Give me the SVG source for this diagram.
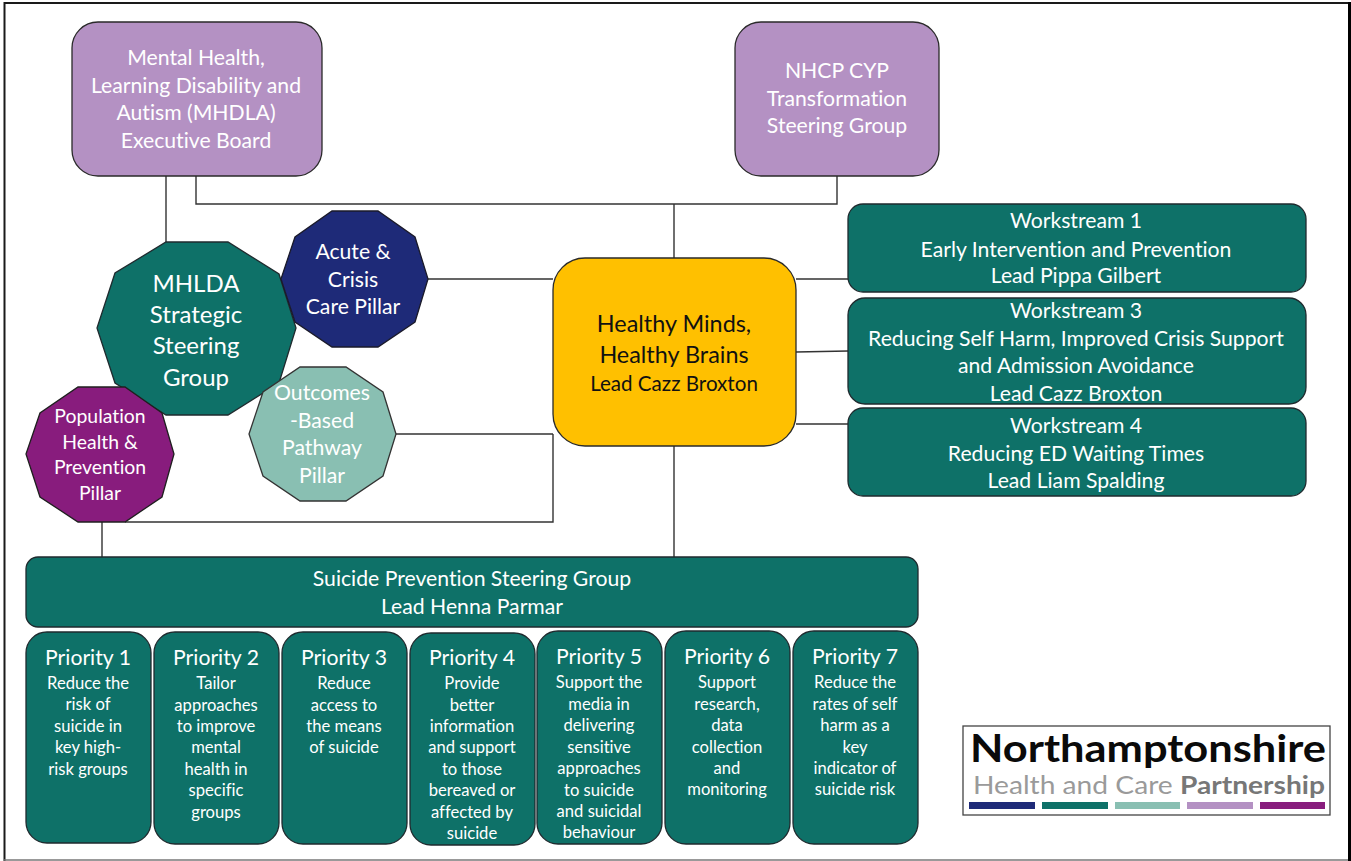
<svg xmlns="http://www.w3.org/2000/svg" width="1351" height="861" viewBox="0 0 1351 861">
<style>
text{font-family:"Lato","Carlito","Open Sans",sans-serif;fill:#fff;text-anchor:middle;font-size:21.2px;font-variant-ligatures:none;transform:translateY(.6px)}
.s{font-size:16.6px}
.t{fill:#0e7168;stroke:#1f2a2e;stroke-width:1.3}
.l{fill:#b491c3;stroke:#2a2a2a;stroke-width:1.3}
.c{fill:none;stroke:#333;stroke-width:1.4}
</style>
<rect width="1351" height="861" fill="#fff"/>
<path d="M4.5 861V3H1348" fill="none" stroke="#1a1a1a" stroke-width="2"/>
<rect x="1348" y="2" width="3" height="859" fill="#000"/>
<path d="M4 860H1348" fill="none" stroke="#777" stroke-width="1.5"/>
<g id="connectors">
<path class="c" d="M166 176V242M196 176V204H837V176M674 204V258M428 279H553M396 434H553M125 522H553V434M102 522V557M674 446V557M796 279H848M796 352L848 351M796 424H848"/>
</g>
<g id="mhlda-board"><rect class="l" x="72" y="22" width="250" height="154" rx="26"/>
<text x="196" y="64">Mental Health,</text><text x="196" y="92">Learning Disability and</text><text x="196" y="119">Autism (MHDLA)</text><text x="196" y="147">Executive Board</text></g>
<g id="nhcp"><rect class="l" x="735" y="22" width="204" height="154" rx="26"/>
<text x="837" y="77">NHCP CYP</text><text x="837" y="105">Transformation</text><text x="837" y="132">Steering Group</text></g>
<g id="mhlda-steering"><polygon class="t" points="166,242 228,242 279,274 296,328 279,383 228,415 166,415 115,383 97,328 115,273"/>
<text x="196" y="291" style="font-size:24px">MHLDA</text><text x="196" y="322" style="font-size:24px">Strategic</text><text x="196" y="353" style="font-size:24px">Steering</text><text x="196" y="385" style="font-size:24px">Group</text></g>
<g id="acute"><polygon points="332,211 378,211 415,237 428,279 415,322 378,347 332,347 295,322 281,279 295,237" fill="#1e2a78" stroke="#1a1a2a" stroke-width="1.3"/>
<text x="353" y="258">Acute &amp;</text><text x="353" y="286">Crisis</text><text x="353" y="313">Care Pillar</text></g>
<g id="outcomes"><polygon points="300,367 346,367 383,392 396,434 383,476 346,501 300,501 263,476 249,434 263,392" fill="#89bfb2" stroke="#333" stroke-width="1.3"/>
<text x="322" y="399">Outcomes</text><text x="322" y="427">-Based</text><text x="322" y="454">Pathway</text><text x="322" y="482">Pillar</text></g>
<g id="population"><polygon points="78,387 125,387 162,413 174,454 162,497 125,522 78,522 40,497 26,454 40,413" fill="#881c7d" stroke="#1f1f1f" stroke-width="1.3"/>
<text x="100" y="422" style="font-size:19.4px">Population</text><text x="100" y="448" style="font-size:19.4px">Health &amp;</text><text x="100" y="473" style="font-size:19.4px">Prevention</text><text x="100" y="499" style="font-size:19.4px">Pillar</text></g>
<g id="healthy-minds"><rect x="553" y="258" width="243" height="188" rx="32" fill="#ffc000" stroke="#2a2a2a" stroke-width="1.3"/>
<text x="674" y="331" style="fill:#111;font-size:23.4px">Healthy Minds,</text><text x="674" y="362" style="fill:#111;font-size:23.4px">Healthy Brains</text><text x="674" y="390" style="fill:#111;font-size:20.6px">Lead Cazz Broxton</text></g>
<g id="ws1"><rect class="t" x="848" y="204" width="458" height="88" rx="15"/>
<text x="1076" y="227">Workstream 1</text><text x="1076" y="256">Early Intervention and Prevention</text><text x="1076" y="282">Lead Pippa Gilbert</text></g>
<g id="ws3"><rect class="t" x="848" y="298" width="458" height="106" rx="17"/>
<text x="1076" y="317">Workstream 3</text><text x="1076" y="345">Reducing Self Harm, Improved Crisis Support</text><text x="1076" y="372">and Admission Avoidance</text><text x="1076" y="400">Lead Cazz Broxton</text></g>
<g id="ws4"><rect class="t" x="848" y="408" width="458" height="88" rx="15"/>
<text x="1076" y="432">Workstream 4</text><text x="1076" y="460">Reducing ED Waiting Times</text><text x="1076" y="487">Lead Liam Spalding</text></g>
<g id="suicide"><rect class="t" x="26" y="557" width="892" height="70" rx="12"/>
<text x="472" y="585">Suicide Prevention Steering Group</text><text x="472" y="613">Lead Henna Parmar</text></g>
<g id="p1"><rect class="t" x="26" y="632" width="125" height="211" rx="21"/>
<text x="88" y="664">Priority 1</text><text class="s" x="88" y="688">Reduce the</text><text class="s" x="88" y="709">risk of</text><text class="s" x="88" y="731">suicide in</text><text class="s" x="88" y="752">key high-</text><text class="s" x="88" y="774">risk groups</text></g>
<g id="p2"><rect class="t" x="154" y="632" width="125" height="212" rx="21"/>
<text x="216" y="664">Priority 2</text><text class="s" x="216" y="688">Tailor</text><text class="s" x="216" y="710">approaches</text><text class="s" x="216" y="731">to improve</text><text class="s" x="216" y="752">mental</text><text class="s" x="216" y="774">health in</text><text class="s" x="216" y="795">specific</text><text class="s" x="216" y="817">groups</text></g>
<g id="p3"><rect class="t" x="282" y="632" width="125" height="212" rx="21"/>
<text x="344" y="664">Priority 3</text><text class="s" x="344" y="688">Reduce</text><text class="s" x="344" y="710">access to</text><text class="s" x="344" y="731">the means</text><text class="s" x="344" y="752">of suicide</text></g>
<g id="p4"><rect class="t" x="410" y="633" width="125" height="212" rx="21"/>
<text x="472" y="664">Priority 4</text><text class="s" x="472" y="688">Provide</text><text class="s" x="472" y="710">better</text><text class="s" x="472" y="731">information</text><text class="s" x="472" y="752">and support</text><text class="s" x="472" y="774">to those</text><text class="s" x="472" y="795">bereaved or</text><text class="s" x="472" y="817">affected by</text><text class="s" x="472" y="838">suicide</text></g>
<g id="p5"><rect class="t" x="537" y="631" width="125" height="213" rx="21"/>
<text x="599" y="663">Priority 5</text><text class="s" x="599" y="687">Support the</text><text class="s" x="599" y="709">media in</text><text class="s" x="599" y="730">delivering</text><text class="s" x="599" y="752">sensitive</text><text class="s" x="599" y="773">approaches</text><text class="s" x="599" y="795">to suicide</text><text class="s" x="599" y="816">and suicidal</text><text class="s" x="599" y="837">behaviour</text></g>
<g id="p6"><rect class="t" x="665" y="631" width="125" height="213" rx="21"/>
<text x="727" y="663">Priority 6</text><text class="s" x="727" y="687">Support</text><text class="s" x="727" y="709">research,</text><text class="s" x="727" y="730">data</text><text class="s" x="727" y="752">collection</text><text class="s" x="727" y="773">and</text><text class="s" x="727" y="794">monitoring</text></g>
<g id="p7"><rect class="t" x="793" y="631" width="125" height="213" rx="21"/>
<text x="855" y="663">Priority 7</text><text class="s" x="855" y="687">Reduce the</text><text class="s" x="855" y="709">rates of self</text><text class="s" x="855" y="730">harm as a</text><text class="s" x="855" y="752">key</text><text class="s" x="855" y="773">indicator of</text><text class="s" x="855" y="794">suicide risk</text></g>
<g id="logo"><rect x="963" y="726" width="367" height="89" fill="#fff" stroke="#444" stroke-width="1.3"/>
<text x="1148" y="761.5" style="fill:#0a0a0a;font-size:38px;font-weight:700" textLength="356" lengthAdjust="spacingAndGlyphs">Northamptonshire</text>
<text x="1149" y="793.5" style="fill:#9a9a9a;font-size:24.5px" textLength="352" lengthAdjust="spacingAndGlyphs">Health and Care <tspan style="fill:#777;font-weight:700">Partnership</tspan></text>
<rect x="969" y="802" width="66" height="7" fill="#1e2a78"/><rect x="1042" y="802" width="66" height="7" fill="#0e7168"/><rect x="1115" y="802" width="65" height="7" fill="#89bfb2"/><rect x="1187" y="802" width="66" height="7" fill="#b491c3"/><rect x="1260" y="802" width="65" height="7" fill="#881c7d"/></g>
</svg>
